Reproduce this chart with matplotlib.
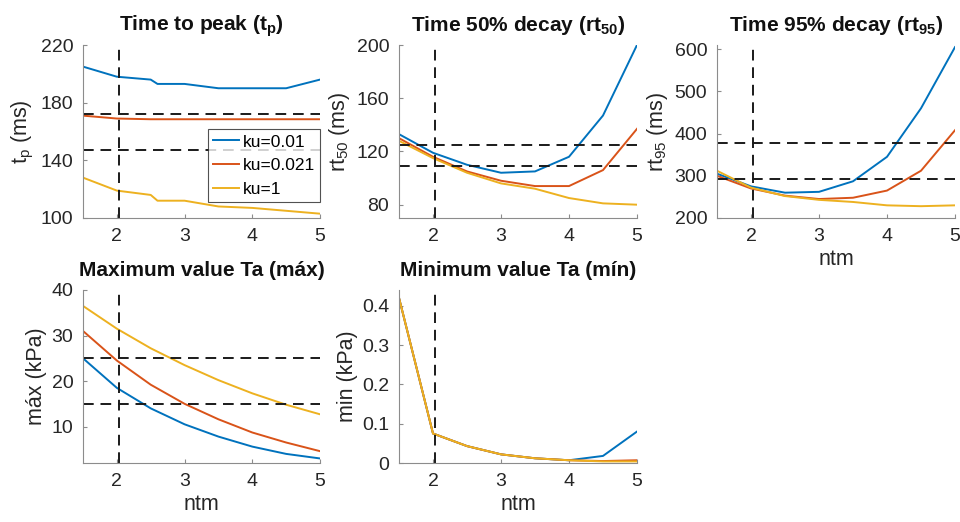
import matplotlib.pyplot as plt

plt.rcParams['font.family'] = ['Liberation Sans', 'DejaVu Sans']
plt.rcParams['mathtext.fontset'] = 'custom'
plt.rcParams['mathtext.rm'] = 'Liberation Sans'
plt.rcParams['mathtext.it'] = 'Liberation Sans'
plt.rcParams['mathtext.bf'] = 'Liberation Sans:bold'

# MATLAB default colours
c_blue, c_red, c_yel = '#0072BD', '#D95319', '#EDB120'
labels = ['ku=0.01', 'ku=0.021', 'ku=1']

ntm = [1.5, 2.0, 2.5, 3.0, 3.5, 4.0, 4.5, 5.0]
ntm_tp = [1.5, 2.0, 2.5, 2.6, 3.0, 3.5, 4.0, 4.5, 5.0]

tp_blue = [205, 198, 196, 193, 193, 190, 190, 190, 196]
tp_red = [171, 169, 168.5, 168.5, 168.5, 168.5, 168.5, 168.5, 168.5]
tp_yel = [128, 119, 116, 112, 112, 108, 107, 105, 103]

rt50_blue = [133, 119, 110, 104, 105, 116, 147, 200]
rt50_red = [130, 116, 105, 98, 94, 94, 106, 137]
rt50_yel = [128, 115, 104, 96, 92, 85, 81, 80]

rt95_blue = [305, 275, 260, 262, 287, 345, 460, 605]
rt95_red = [300, 270, 253, 245, 248, 265, 312, 408]
rt95_yel = [312, 272, 252, 243, 238, 230, 228, 230]

max_blue = [25, 18.5, 14, 10.5, 7.8, 5.6, 4.0, 3.0]
max_red = [31, 24.5, 19.2, 15, 11.6, 8.7, 6.5, 4.6]
max_yel = [36.5, 31.5, 27.2, 23.5, 20.2, 17.3, 14.8, 12.7]

min_blue = [0.42, 0.075, 0.043, 0.022, 0.012, 0.007, 0.018, 0.08]
min_red = [0.42, 0.075, 0.043, 0.022, 0.012, 0.007, 0.005, 0.007]
min_yel = [0.42, 0.075, 0.043, 0.022, 0.012, 0.007, 0.004, 0.004]

vline_x = 2.03
tp_h = [172, 147]
rt50_h = [125, 109]
rt95_h = [378, 292]
max_h = [25, 15]

W, H = 960, 522
fig = plt.figure(figsize=(W / 100, H / 100), dpi=100)


def make_ax(left, top, right, bottom):
    return fig.add_axes([left / W, 1 - bottom / H, (right - left) / W, (bottom - top) / H])


axes = [make_ax(83, 45, 320, 218), make_ax(399, 45, 637, 218), make_ax(717, 45, 955, 218),
        make_ax(83, 290, 320, 463), make_ax(399, 290, 637, 463)]

panels = [
    ('Time to peak (t$_\\mathbf{p}$)', 't$_\\mathrm{p}$ (ms)', ntm_tp, [tp_blue, tp_red, tp_yel], tp_h, (100, 220), [100, 140, 180, 220]),
    ('Time 50% decay (rt$_\\mathbf{50}$)', 'rt$_\\mathrm{50}$ (ms)', ntm, [rt50_blue, rt50_red, rt50_yel], rt50_h, (70, 200), [80, 120, 160, 200]),
    ('Time 95% decay (rt$_\\mathbf{95}$)', 'rt$_\\mathrm{95}$ (ms)', ntm, [rt95_blue, rt95_red, rt95_yel], rt95_h, (200, 610), [200, 300, 400, 500, 600]),
    ('Maximum value Ta (máx)', 'máx (kPa)', ntm, [max_blue, max_red, max_yel], max_h, (2, 40), [10, 20, 30, 40]),
    ('Minimum value Ta (mín)', 'min (kPa)', ntm, [min_blue, min_red, min_yel], [], (0, 0.44), [0, 0.1, 0.2, 0.3, 0.4]),
]

for i, (ax, (title, ylab, xs, series, hl, ylim, yt)) in enumerate(zip(axes, panels)):
    lines = []
    for ys, c, lb in zip(series, [c_blue, c_red, c_yel], labels):
        ln, = ax.plot(xs, ys, color=c, lw=1.4, label=lb)
        lines.append(ln)
    for h in hl:
        ax.axhline(h, color='#1a1a1a', lw=1.4, ls=(0, (5.5, 3.5)))
    ax.axvline(vline_x, color='#1a1a1a', lw=1.4, ls=(0, (5.5, 3.5)))
    ax.set_xlim(1.5, 5)
    ax.set_ylim(*ylim)
    ax.set_xticks([2, 3, 4, 5])
    ax.set_yticks(yt)
    if i == 4:
        ax.set_yticklabels(['0', '0.1', '0.2', '0.3', '0.4'])
    for s in ['top', 'right']:
        ax.spines[s].set_visible(False)
    for s in ['left', 'bottom']:
        ax.spines[s].set_color('#8c8c8c')
    ax.tick_params(direction='in', length=3, color='#8c8c8c', labelsize=14, labelcolor='#262626', pad=7)
    ax.set_title(title, fontsize=15, fontweight='bold', color='#111111', pad=10)
    ax.set_ylabel(ylab, fontsize=15.5, color='#262626', labelpad=3)
    if i >= 2:
        ax.set_xlabel('ntm', fontsize=15.5, color='#262626', labelpad=3)
    if i == 0:
        leg = ax.legend(handles=lines, loc='lower right', bbox_to_anchor=(1.0, 0.09), fontsize=12.5,
                        frameon=True, fancybox=False, edgecolor='#262626', borderpad=0.3,
                        handlelength=1.5, handletextpad=0.2, labelspacing=0.5, borderaxespad=0)
        leg.get_frame().set_linewidth(0.8)

fig.savefig('out.png', dpi=100, facecolor='white')
